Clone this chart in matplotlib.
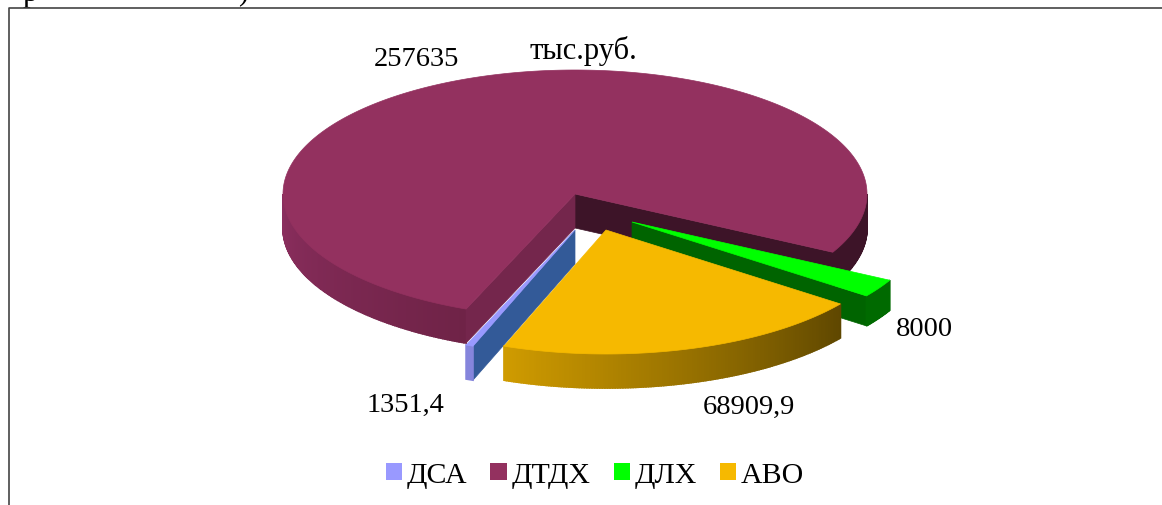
import numpy as np
import matplotlib
matplotlib.use('Agg')
import matplotlib.pyplot as plt
from matplotlib.colors import to_rgb
from matplotlib.patches import Patch

plt.rcParams['font.family'] = ['Liberation Serif', 'DejaVu Serif']

# clockwise order, as in the legend
categories = ['ДСА', 'ДТДХ', 'ДЛХ', 'АВО']
values = [1351.4, 257635, 8000, 68909.9]
unit_label = 'тыс.руб.'

top_colors = ['#9999ff', '#93315f', '#00ff00', '#f6b900']

# pie projection, pixels of the picture
cx, cy = 575, 195
rx, ry = 292, 124
depth = 34
start_angle = 249.55
# how far each slice is pulled out of the pie
shifts = [(0, 36), (0, 0), (57, 28), (31, 36)]


def point(angle, dx=0, dy=0):
    a = np.radians(angle)
    return cx + dx + rx * np.cos(a), cy + dy - ry * np.sin(a)


def arc(a1, a2, dx=0, dy=0):
    # a1 > a2, going clockwise
    n = max(int(abs(a1 - a2) * 2), 2)
    angles = np.linspace(a1, a2, n)
    xs, ys = point(angles, dx, dy)
    return np.column_stack([xs, ys])


def side_face(ax, p1, p2, color, d=depth, lw=0.5):
    pts = [p1, p2, (p2[0], p2[1] + d), (p1[0], p1[1] + d)]
    ax.fill(*zip(*pts), color=color, lw=lw, zorder=2)


def rim(ax, a1, a2, c1, c2, dx=0, dy=0, d=depth):
    # outer edge of a slice, small quads with a colour ramp
    pts = arc(a1, a2, dx, dy)
    c1, c2 = np.array(to_rgb(c1)), np.array(to_rgb(c2))
    for i in range(len(pts) - 1):
        t = i / max(len(pts) - 2, 1)
        color = c1 + (c2 - c1) * t
        side_face(ax, pts[i], pts[i + 1], color, d, lw=1.2)


def top_face(ax, a1, a2, color, dx=0, dy=0):
    pts = np.vstack([[cx + dx, cy + dy], arc(a1, a2, dx, dy)])
    ax.fill(pts[:, 0], pts[:, 1], color=color, lw=0.5, zorder=2)


fig = plt.figure(figsize=(11.62, 5.06), dpi=100)
ax = fig.add_axes([0, 0, 1, 1])
ax.set_xlim(0, 1162)
ax.set_ylim(506, 0)
ax.axis('off')

# slice angles from the values
sweeps = np.array(values) / sum(values) * 360
starts = start_angle - np.concatenate([[0], np.cumsum(sweeps)[:-1]])
ends = starts - sweeps

# ДТДХ
s, e = starts[1], ends[1]
apex = (cx, cy)
rim(ax, s, 180, '#6f2347', '#8b2e5e')
rim(ax, 0, e, '#3d1428', '#3d1428')
side_face(ax, apex, point(e), '#3d1428')
side_face(ax, apex, point(s), '#74264c')
top_face(ax, s, e, top_colors[1])

# ДЛХ
s, e = starts[2], ends[2]
dx, dy = shifts[2]
apex = (cx + dx, cy + dy)
side_face(ax, apex, point(e, dx, dy), '#006400', 30)
rim(ax, s, e, '#006a00', '#006a00', dx, dy, 30)
top_face(ax, s, e, top_colors[2], dx, dy)

# ДСА
s, e = starts[0], ends[0]
dx, dy = shifts[0]
apex = (cx + dx, cy + dy)
side_face(ax, apex, point(s, dx, dy), '#335a98')
rim(ax, s, e, '#8585dc', '#8585dc', dx, dy)
top_face(ax, s, e, top_colors[0], dx, dy)

# АВО
s, e = starts[3], ends[3]
dx, dy = shifts[3]
rim(ax, s, e, '#5f4700', '#cf9b00', dx, dy)
top_face(ax, s, e, top_colors[3], dx, dy)

# value labels
label_pos = [(405, 405), (416, 59), (924, 329), (749, 407)]
for v, (x, y) in zip(values, label_pos):
    ax.text(x, y, f'{v:.10g}'.replace('.', ','), fontsize=20.5, ha='center', va='center',
            color='black')
ax.text(583, 51, unit_label, fontsize=22, ha='center', va='center', color='black')

# frame, open at the right and the bottom
ax.plot([8.5, 8.5, 1162], [506, 8.5, 8.5], color='#444444', lw=1.2, zorder=5)

# bits of the page text above the frame
ax.text(30, 1, 'р', fontsize=22, ha='center', va='baseline', color='black')
ax.text(243, -1, ')', fontsize=22, ha='center', va='baseline', color='black')

handles = [Patch(facecolor=c, edgecolor='none') for c in top_colors]
leg = ax.legend(handles, categories, ncol=4, frameon=False, fontsize=21.5,
                loc='center', bbox_to_anchor=(595 / 1162, 1 - 476 / 506),
                handlelength=0.54, handleheight=0.54, handletextpad=0.16,
                columnspacing=0.78, borderpad=0, borderaxespad=0, labelspacing=0)

fig.savefig('out.png', dpi=100)
